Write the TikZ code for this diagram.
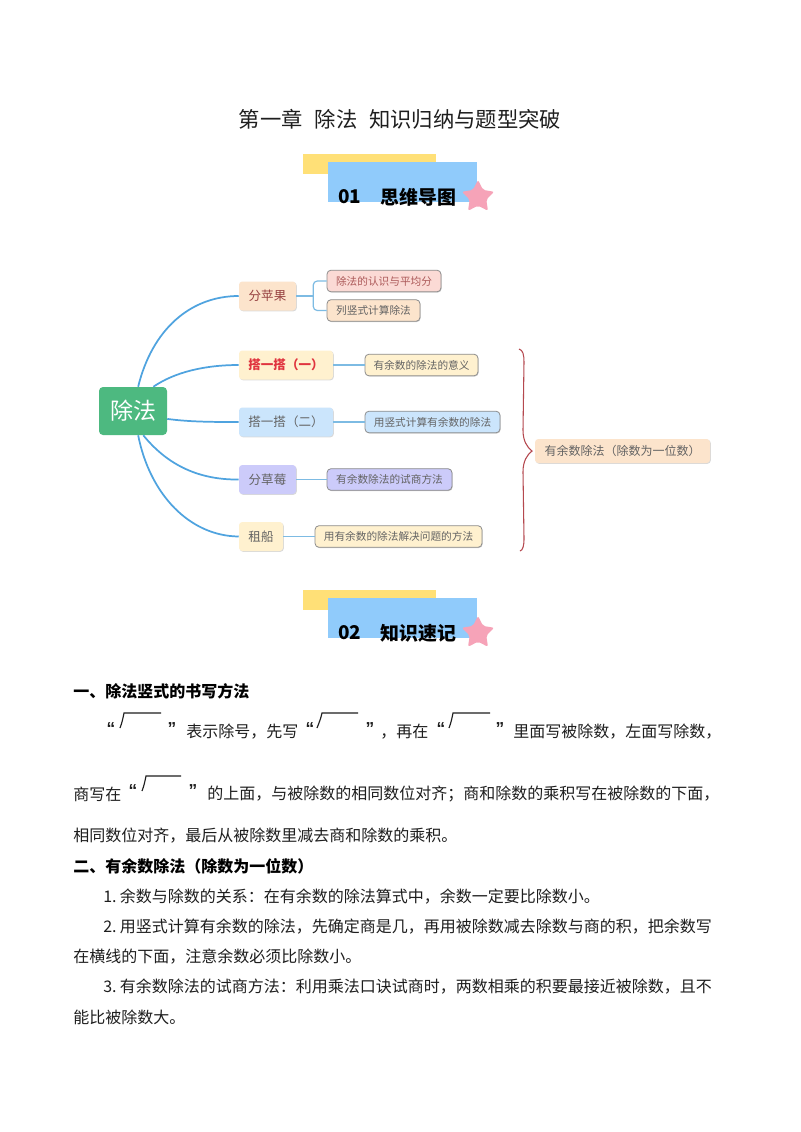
\documentclass[tikz,border=0pt]{standalone}
\usepackage{fontspec}
\setmainfont{Noto Sans CJK SC}
\newfontfamily\qfont{Liberation Sans}
\usetikzlibrary{shapes.geometric,shadows,calc}
\definecolor{lnblue}{HTML}{4FA3DF}
\definecolor{lnlight}{HTML}{7DBBE3}
\definecolor{cpeach}{HTML}{FCE4CC}
\definecolor{cyel}{HTML}{FFF1CF}
\definecolor{cblue}{HTML}{CBE5FC}
\definecolor{cpurp}{HTML}{CCCBFA}
\definecolor{cpink}{HTML}{FBDAD5}
\definecolor{tgray}{HTML}{636363}
\definecolor{tbody}{HTML}{1E1E1E}
\definecolor{banY}{HTML}{FFE077}
\definecolor{banB}{HTML}{90CBFB}
\definecolor{starP}{HTML}{F6A3B8}
\definecolor{rootG}{HTML}{4DB980}
\definecolor{braceR}{HTML}{B5484F}
\definecolor{tred}{HTML}{E0343F}
\tikzset{
  x=0.75pt,y=-0.75pt,
  body/.style={anchor=west,inner sep=0pt,text=tbody,font=\fontsize{12pt}{14pt}\selectfont},
  head/.style={anchor=west,inner sep=0pt,text=black,font=\fontsize{12pt}{14pt}\selectfont\bfseries},
  quot/.style={anchor=center,inner sep=0pt,text=tbody,font=\fontsize{13pt}{14pt}\qfont\bfseries},
  radical/.style={draw=tbody,line width=0.85pt},
  topic/.style={rounded corners=2.5pt,inner sep=0pt,minimum height=21.75pt,text=tgray,
    font=\fontsize{9.4pt}{11pt}\selectfont,drop shadow={shadow xshift=0.6pt,shadow yshift=-0.6pt,opacity=.15,fill=black}},
  leaf/.style={rounded corners=3pt,inner sep=0pt,minimum height=16.2pt,text=tgray,draw=black!45,line width=0.6pt,
    font=\fontsize{8pt}{10pt}\selectfont,drop shadow={shadow xshift=0.5pt,shadow yshift=-0.6pt,opacity=.2,fill=black}},
  curve/.style={draw=lnblue,line width=1.3pt},
  twig/.style={draw=lnlight,line width=0.9pt},
  banneryel/.style={fill=banY,draw=none,minimum width=99.75pt,minimum height=15pt,inner sep=0pt},
  bannerblue/.style={fill=banB,draw=none,minimum width=111.75pt,minimum height=30pt,inner sep=0pt},
  pinkstar/.style={star,star points=5,star point ratio=1.95,minimum size=25.5pt,inner sep=0pt,fill=starP,rounded corners=1.5pt},
  bantext/.style={anchor=west,inner sep=0pt,text=black,font=\fontsize{14.2pt}{16pt}\selectfont\bfseries},
}
\begin{document}
\begin{tikzpicture}
\useasboundingbox (0,0) rectangle (800,1132);
\fill[white] (0,0) rectangle (800,1132);

\node[anchor=center,inner sep=0pt,text=tbody,font=\fontsize{16pt}{18pt}\selectfont] (title) at (400,119) {第一章\hspace{0.55em}除法\hspace{0.55em}知识归纳与题型突破};

% banner 1
\node[banneryel] (y1) at (369.5,164) {};
\node[bannerblue] (b1) at (402.5,182) {};
\node[pinkstar] (s1) at (478,197) {};
\node[bantext] (n1) at (338,197) {01};
\node[bantext] (t1) at (380,197) {思维导图};
% banner 2
\node[banneryel] (y2) at (369.5,600) {};
\node[bannerblue] (b2) at (402.5,618) {};
\node[pinkstar] (s2) at (478,633) {};
\node[bantext] (n2) at (338,633) {02};
\node[bantext] (t2) at (380,633) {知识速记};

% mind map
\node[rounded corners=3pt,fill=rootG,minimum width=51pt,minimum height=36pt,inner sep=0pt,text=white,font=\fontsize{17.25pt}{20pt}\selectfont] (root) at (133,411) {除法};
\node[topic,fill=cpeach,text=red!45!black!75!white,minimum width=42.75pt] (a) at (267.5,296) {分苹果};
\node[topic,fill=cyel,text=tred,minimum width=70.5pt] (b) at (286,365) {\bfseries 搭一搭（一）};
\node[topic,fill=cblue,minimum width=70.5pt] (c) at (286,422) {搭一搭（二）};
\node[topic,fill=cpurp,minimum width=42.75pt] (d) at (267.5,479.5) {分草莓};
\node[topic,fill=cyel,minimum width=33pt] (e) at (261,536.5) {租船};
\node[leaf,fill=cpink,text=red!50!black!65!white,minimum width=85.5pt] (a1) at (384,281) {除法的认识与平均分};
\node[leaf,fill=cpeach,minimum width=69.75pt] (a2) at (373.5,310.5) {列竖式计算除法};
\node[leaf,fill=cyel,minimum width=84.75pt] (b1l) at (421.5,365) {有余数的除法的意义};
\node[leaf,fill=cblue,minimum width=101.25pt] (c1) at (432.5,422) {用竖式计算有余数的除法};
\node[leaf,fill=cpurp,minimum width=93.75pt] (d1) at (389.5,479.5) {有余数除法的试商方法};
\node[leaf,fill=cyel,minimum width=125.25pt] (e1) at (398.5,536.5) {用有余数的除法解决问题的方法};
\node[topic,fill=cpeach,minimum width=131.25pt,minimum height=18pt,font=\fontsize{9pt}{11pt}\selectfont] (sum) at (622.5,451) {有余数除法（除数为一位数）};

\draw[curve] (root.78) .. controls (152,330) and (190,296) .. (a.west);
\draw[curve] (root.50) .. controls (175,372) and (205,365) .. (b.west);
\draw[curve] (root.-13) .. controls (190,422) and (215,422) .. (c.west);
\draw[curve] (root.-67) .. controls (165,462) and (195,480) .. (d.west);
\draw[curve] (root.-78) .. controls (150,495) and (190,536) .. (e.west);

\draw[twig] (a.east) -- ++(17,0) coordinate (fork);
\draw[twig,rounded corners=3pt] (a1.west) -| (fork) |- (a2.west);
\draw[twig] (b.east) -- (b1l.west);
\draw[twig] (c.east) -- (c1.west);
\draw[twig] (d.east) -- (d1.west);
\draw[twig] (e.east) -- (e1.west);

% brace
\coordinate (tip) at (532,451);
\draw[draw=braceR,line width=0.8pt] (519,349) .. controls (523,350) and (524,355) .. (524,362)
  -- (523,430) .. controls (523,441) and (527,447) .. (tip)
  .. controls (527,455) and (523,461) .. (523,472)
  -- (524,538) .. controls (524,546) and (523,550) .. (520,551);

% section text
\node[head] (h1) at (73,691) {一、除法竖式的书写方法};
\node[quot] (q1) at (111,729) {“};
\draw[radical] (120,728) .. controls (122,723) and (123,718) .. (124,713) -- (161,713);
\node[quot] (q2) at (172,729) {”};
\node[body] (l1a) at (186,732) {表示除号，先写};
\node[quot] (q3) at (310,729) {“};
\draw[radical] (317,728) .. controls (319,723) and (321,718) .. (322,713) -- (358,713);
\node[quot] (q4) at (370,729) {”};
\node[body] (l1b) at (380,732) {，再在};
\node[quot] (q5) at (441,729) {“};
\draw[radical] (449,728) .. controls (451,723) and (452,718) .. (453,713) -- (490,713);
\node[quot] (q6) at (500,729) {”};
\node[body] (l1c) at (513,732) {里面写被除数，左面写除数，};

\node[body] (l2a) at (73,794) {商写在};
\node[quot] (q7) at (133,791) {“};
\draw[radical] (142,791) .. controls (144,786) and (145,781) .. (146,776) -- (181,776);
\node[quot] (q8) at (193,791) {”};
\node[body] (l2b) at (207,794) {的上面，与被除数的相同数位对齐；商和除数的乘积写在被除数的下面，};
\node[body] (l3) at (73,836) {相同数位对齐，最后从被除数里减去商和除数的乘积。};

\node[head] (h2) at (73,866) {二、有余数除法（除数为一位数）};
\node[body] (p1) at (103,897) {1.\hspace{2.5pt}余数与除数的关系：在有余数的除法算式中，余数一定要比除数小。};
\node[body] (p2) at (103,927) {2.\hspace{2.5pt}用竖式计算有余数的除法，先确定商是几，再用被除数减去除数与商的积，把余数写};
\node[body] (p2b) at (73,957) {在横线的下面，注意余数必须比除数小。};
\node[body] (p3) at (103,987) {3.\hspace{2.5pt}有余数除法的试商方法：利用乘法口诀试商时，两数相乘的积要最接近被除数，且不};
\node[body] (p3b) at (73,1017) {能比被除数大。};
\end{tikzpicture}
\end{document}
